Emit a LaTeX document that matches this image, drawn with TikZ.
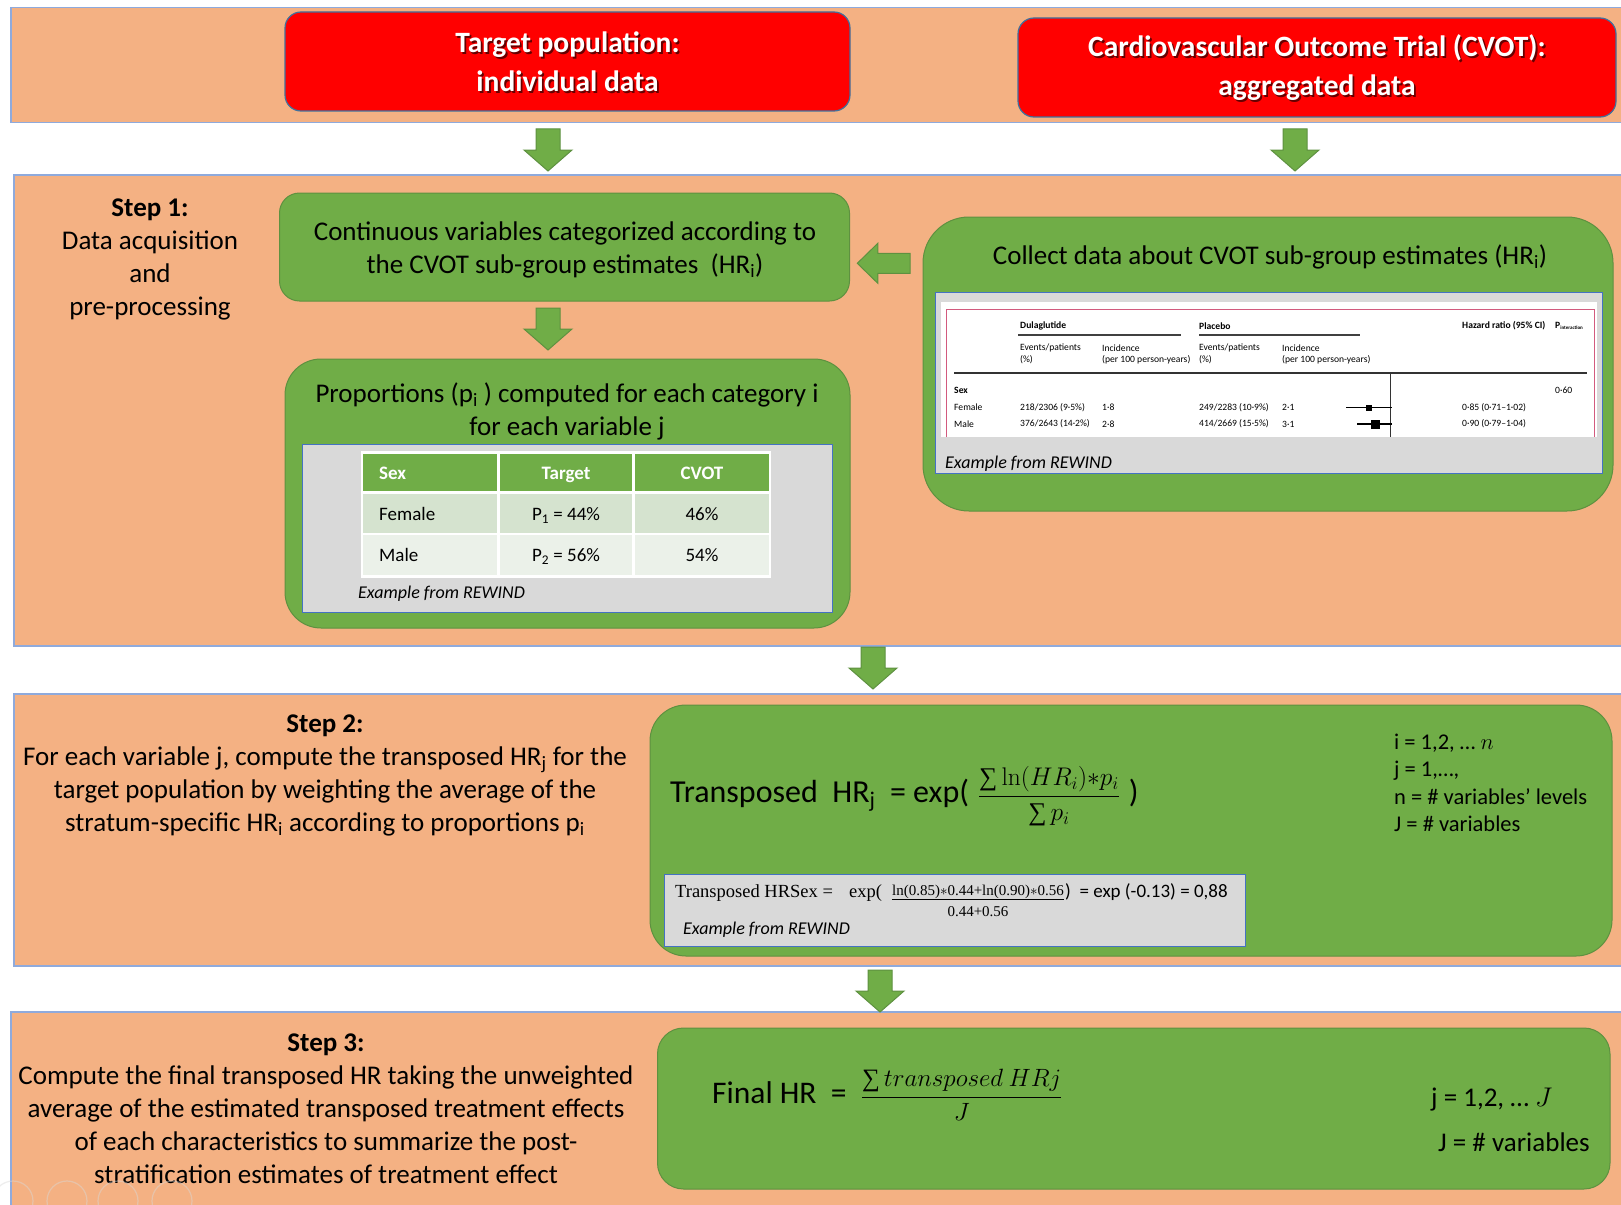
\RequirePackage{fix-cm}
\documentclass[tikz,border=0pt]{standalone}
\usepackage{exscale}
\usepackage[no-math]{fontspec}
\setmainfont{Carlito}
\newfontfamily\serifont{Liberation Serif}
\newcommand\fsz[2]{\fontsize{#1}{#2}\selectfont}
% summation sign taken from the serif text face
\newcommand\sersum{\mathop{\mbox{\serifont ∑}}\nolimits}

\definecolor{bandfill}{HTML}{F4B183}
\definecolor{bandline}{HTML}{8FAADC}
\definecolor{leaf}{HTML}{70AD47}
\definecolor{leafline}{HTML}{5E9140}
\definecolor{alarm}{HTML}{FF0000}
\definecolor{alarmline}{HTML}{41719C}
\definecolor{panel}{HTML}{D9D9D9}
\definecolor{panelline}{HTML}{4472C4}
\definecolor{rowa}{HTML}{D5E3CF}
\definecolor{rowb}{HTML}{EBF1E9}
\definecolor{plotframe}{HTML}{D25A7E}

\tikzset{
  band/.style={draw=bandline, line width=1.5pt, fill=bandfill, anchor=north west, inner sep=0pt},
  redbox/.style={draw=alarmline, line width=1.2pt, fill=alarm, rounded corners=16pt, inner sep=0pt},
  greenbox/.style={draw=leafline, line width=1pt, fill=leaf, inner sep=0pt},
  panelbox/.style={draw=panelline, line width=1pt, fill=panel, inner sep=0pt},
  headtext/.style={text=white, font=\bfseries\fsz{29.5}{39}, align=center, inner sep=0pt},
  headshadow/.style={text=black, opacity=0.6, font=\bfseries\fsz{29.5}{39}, align=center, inner sep=0pt},
  body/.style={font=\fsz{27}{33}, align=center, inner sep=0pt},
  note/.style={font=\itshape\fsz{18}{20}, anchor=west, inner sep=0pt},
  cell/.style={font=\fsz{19}{22}, inner sep=0pt, anchor=base},
  headcell/.style={font=\bfseries\fsz{19}{22}, text=white, inner sep=0pt, anchor=base},
  plottext/.style={font=\fsz{9.6}{11}, anchor=west, inner sep=0pt},
  plotbold/.style={font=\bfseries\fsz{9.6}{11}, anchor=west, inner sep=0pt},
  sertext/.style={font=\serifont\fsz{18.5}{22}, anchor=base west, inner sep=0pt},
  blockarrow/.style={draw=leafline, line width=1pt, fill=leaf},
  downarrow/.pic={\path[blockarrow] (-12,0) -- (12,0) -- (12,21) -- (24,21) -- (0,42) -- (-24,21) -- (-12,21) -- cycle;},
  leftarrow/.pic={\path[blockarrow] (0,0) -- (20.5,-20) -- (20.5,-10) -- (52.7,-10) -- (52.7,10) -- (20.5,10) -- (20.5,20) -- cycle;},
}

\begin{document}
\begin{tikzpicture}[x=1pt,y=-1pt]
\useasboundingbox (0,0) rectangle (1621,1204);
\fill[white] (0,0) rectangle (1621,1204);

% ---------- background bands ----------
\node[band, minimum width=1620pt, minimum height=115pt] (band0) at (10,7) {};
\node[band, minimum width=1620pt, minimum height=471pt] (band1) at (13,174) {};
\node[band, minimum width=1620pt, minimum height=272pt] (band2) at (13,693) {};
\node[band, minimum width=1620pt, minimum height=200pt] (band3) at (10,1011) {};

% ---------- block arrows ----------
\pic at (548,129) {downarrow};
\pic at (1295,129) {downarrow};
\pic at (548,308) {downarrow};
\pic at (873,647) {downarrow};
\pic at (880,970) {downarrow};
\pic at (857.3,263.3) {leftarrow};

% ---------- data sources ----------
\node[redbox, minimum width=565pt, minimum height=99pt] (target) at (567.5,61.5) {};
\node[headshadow] (targetsh) at ([xshift=1.8pt,yshift=-1.8pt]target.center) {Target population:\\individual data};
\node[headtext] (targettx) at (target.center) {Target population:\\individual data};

\node[redbox, minimum width=598pt, minimum height=99pt] (cvot) at (1317,67.5) {};
\node[headshadow] (cvotsh) at ([xshift=1.8pt,yshift=-1.8pt]cvot.center) {Cardiovascular Outcome Trial (CVOT):\\aggregated data};
\node[headtext] (cvottx) at (cvot.center) {Cardiovascular Outcome Trial (CVOT):\\aggregated data};

% ---------- step 1 ----------
\node[body] (step1) at (150,259) {\textbf{Step 1:}\\Data acquisition\\and\\pre-processing};

\node[greenbox, rounded corners=20pt, minimum width=570pt, minimum height=108pt] (catbox) at (564.5,247) {};
\node[body] (cattx) at (565,250) {Continuous variables categorized according to\\the CVOT sub-group estimates\ \ (HR\textsubscript{i})};

\node[greenbox, rounded corners=36pt, minimum width=565pt, minimum height=269pt] (propbox) at (567.5,493.5) {};
\node[body] (proptx) at (567,411) {Proportions (p\textsubscript{i} ) computed for each category i\\for each variable j};
\node[panelbox, minimum width=530pt, minimum height=168pt] (proppanel) at (567,528) {};

% proportion table
\fill[leaf] (362,452.7) rectangle (770,492);
\fill[rowa] (362,492) rectangle (770,534);
\fill[rowb] (362,534) rectangle (770,576.7);
\draw[white, line width=2.5pt] (362,452.7) rectangle (770,576.7);
\draw[white, line width=3pt] (362,492) -- (770,492);
\draw[white, line width=2.5pt] (362,534) -- (770,534)
  (498.7,452.7) -- (498.7,576.7) (633.7,452.7) -- (633.7,576.7);
\node[headcell, anchor=base west] (hsex) at (379,479.5) {Sex};
\node[headcell] (htarget) at (566,479.5) {Target};
\node[headcell] (hcvot) at (702,479.5) {CVOT};
\node[cell, anchor=base west] (female) at (379,520.5) {Female};
\node[cell] (p1) at (566,520.5) {P\textsubscript{1} = 44\%};
\node[cell] (c1) at (702,520.5) {46\%};
\node[cell, anchor=base west] (male) at (379,561.5) {Male};
\node[cell] (p2) at (566,561.5) {P\textsubscript{2} = 56\%};
\node[cell] (c2) at (702,561.5) {54\%};
\node[note] (exB) at (358,594) {Example from REWIND};

% subgroup estimates
\node[greenbox, rounded corners=46pt, minimum width=690pt, minimum height=294pt] (collect) at (1268,364) {};
\node[body] (collecttx) at (1270,257) {Collect data about CVOT sub-group estimates (HR\textsubscript{i})};
\node[panelbox, minimum width=667pt, minimum height=181pt] (forestpanel) at (1268.5,382.5) {};
\fill[white] (941,302) rectangle (1597,437);
\draw[plotframe, line width=1pt] (946,437) -- (946,309) -- (1594.6,309) -- (1594.6,437);

% forest plot excerpt
\node[plotbold] (dula) at (1020,326) {Dulaglutide};
\node[plotbold] (plac) at (1199,326) {Placebo};
\node[plotbold] (hrci) at (1462,326) {Hazard ratio (95\% CI)};
\node[plotbold] (pint) at (1555,326) {P{\fsz{5}{5}\raisebox{-1.5pt}{interaction}}};
\draw[black!75, line width=1.2pt] (1018,335) -- (1181,335) (1199,335) -- (1360,335);
\node[plottext] (ev1) at (1020,348) {Events/patients};
\node[plottext] (pc1) at (1020,360) {(\%)};
\node[plottext] (in1) at (1102,348) {Incidence};
\node[plottext] (py1) at (1102,360) {(per 100 person-years)};
\node[plottext] (ev2) at (1199,348) {Events/patients};
\node[plottext] (pc2) at (1199,360) {(\%)};
\node[plottext] (in2) at (1282,348) {Incidence};
\node[plottext] (py2) at (1282,360) {(per 100 person-years)};
\draw[black!80, line width=1.2pt] (954,373) -- (1587,373);
\draw[black!80, line width=1pt] (1390,373) -- (1390,437);
\node[plotbold] (sexrow) at (954,390) {Sex};
\node[plottext] (pval) at (1555,390) {0·60};
\node[plottext] (frow) at (954,407.5) {Female};
\node[plottext] (f1) at (1020,407.5) {218/2306 (9·5\%)};
\node[plottext] (f2) at (1102,407.5) {1·8};
\node[plottext] (f3) at (1199,407.5) {249/2283 (10·9\%)};
\node[plottext] (f4) at (1282,407.5) {2·1};
\node[plottext] (f5) at (1462,407.5) {0·85 (0·71–1·02)};
\node[plottext] (mrow) at (954,424) {Male};
\node[plottext] (m1) at (1020,424) {376/2643 (14·2\%)};
\node[plottext] (m2) at (1102,424) {2·8};
\node[plottext] (m3) at (1199,424) {414/2669 (15·5\%)};
\node[plottext] (m4) at (1282,424) {3·1};
\node[plottext] (m5) at (1462,424) {0·90 (0·79–1·04)};
\draw[black, line width=1.2pt] (1346,407.5) -- (1392,407.5) (1357,424) -- (1392,424);
\fill[black] (1366,404.5) rectangle (1372,410.5);
\fill[black] (1370.5,419.5) rectangle (1379.5,428.5);
\node[note] (exC) at (945,464) {Example from REWIND};

% ---------- step 2 ----------
\node[body] (step2) at (325,775) {\textbf{Step 2:}\\For each variable j, compute the transposed HR\textsubscript{j} for the\\target population by weighting the average of the\\stratum-specific HR\textsubscript{i} according to proportions p\textsubscript{i}};

\node[greenbox, rounded corners=36pt, minimum width=962pt, minimum height=251pt] (transbox) at (1131,830.5) {};
\node[anchor=west, inner sep=0pt] (hrj) at (670,796) {\fsz{32}{37}Transposed\ \ HR\textsubscript{j}\ \ = exp(\;{\fsz{25.5}{30}$\displaystyle\frac{\sersum \ln(HR_i){\ast}p_i}{\sersum p_i}$}\;)};
\node[anchor=west, align=left, inner sep=0pt, font=\fsz{22.5}{27.5}] (ranges) at (1394,783) {i = 1,2, … $n$\\j = 1,…,\\n = \# variables’ levels\\J = \# variables};

% worked example for sex
\node[panelbox, minimum width=580.5pt, minimum height=72pt] (sexpanel) at (954.75,910) {};
\node[sertext] (sexlead) at (675,897) {Transposed HRSex =};
\node[sertext] (sexexp) at (849,897) {exp(};
\node[font=\serifont\fsz{15}{16}, anchor=base, inner sep=0pt] (sexnum) at (978,895) {ln(0.85)$\ast$0.44+ln(0.90)$\ast$0.56};
\draw[black, line width=0.8pt] (sexnum.south west |- 0,899) -- (sexnum.south east |- 0,899);
\node[font=\serifont\fsz{15}{16}, anchor=base, inner sep=0pt] (sexden) at (978,916.5) {0.44+0.56};
\node[anchor=base west, inner sep=0pt, font=\fsz{19}{22}] (sexres) at (1065,897) {)\ \ = exp (-0.13) = 0,88};
\node[note] (exD) at (683,930) {Example from REWIND};

% ---------- step 3 ----------
\node[body] (step3) at (326,1108.5) {\textbf{Step 3:}\\Compute the final transposed HR taking the unweighted\\average of the estimated transposed treatment effects\\of each characteristics to summarize the post-\\stratification estimates of treatment effect};

\node[greenbox, rounded corners=26pt, minimum width=952.5pt, minimum height=161pt] (finalbox) at (1133.75,1108.5) {};
\node[anchor=west, inner sep=0pt] (finalhr) at (712,1095) {\fsz{31.5}{37}Final HR\ \ =\ \ {\fsz{25}{30}$\displaystyle\frac{\sersum transposed\ HRj}{J}$}};
\node[anchor=west, inner sep=0pt, font=\fsz{27}{32}] (jrange) at (1431,1100) {j = 1,2, … $J$};
\node[anchor=west, inner sep=0pt, font=\fsz{27}{32}] (jcount) at (1438,1142) {J = \# variables};

% ---------- faint overlay controls ----------
\foreach \cx in {13,67,118,172}
  \draw[white!70!gray, opacity=0.45, line width=1.2pt] (\cx,1201) circle[radius=20pt];
\end{tikzpicture}
\end{document}
